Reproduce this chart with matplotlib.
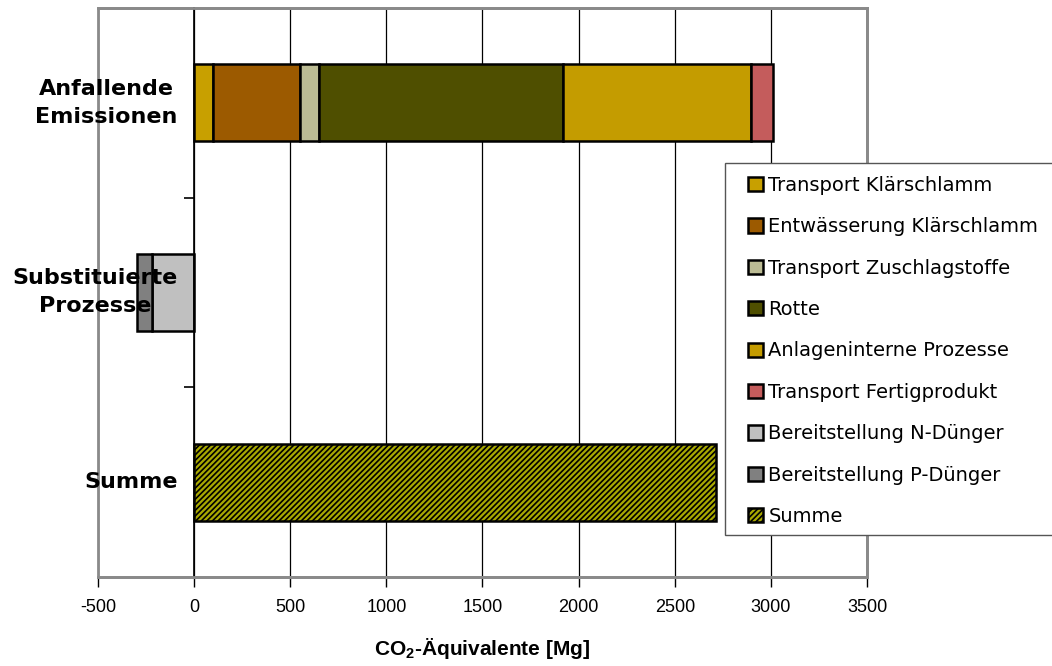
import matplotlib
matplotlib.use("Agg")
import matplotlib.pyplot as plt
from matplotlib.patches import Rectangle, Patch
import numpy as np

categories = ["Anfallende\nEmissionen", "Substituierte\nProzesse", "Summe"]

series_names = ["Transport Klärschlamm", "Entwässerung Klärschlamm", "Transport Zuschlagstoffe",
                "Rotte", "Anlageninterne Prozesse", "Transport Fertigprodukt",
                "Bereitstellung N-Dünger", "Bereitstellung P-Dünger", "Summe"]
# values per category: [Anfallende, Substituierte, Summe]
transport_klaerschlamm = [98, 0, 0]
entwaesserung = [452, 0, 0]
transport_zuschlag = [100, 0, 0]
rotte = [1268, 0, 0]
anlageninterne = [980, 0, 0]
transport_fertig = [113, 0, 0]
n_duenger = [0, -217, 0]
p_duenger = [0, -78, 0]
summe = [0, 0, 2716]

series_values = [transport_klaerschlamm, entwaesserung, transport_zuschlag, rotte,
                 anlageninterne, transport_fertig, n_duenger, p_duenger, summe]
colors = ["#c8a000", "#9c5a00", "#bcbc94", "#4f4f00", "#c49c00", "#c45c5c",
          "#c0c0c0", "#808080", "#a8a800"]
hatches = [None] * 8 + ["//////"]

xticks = [-500, 0, 500, 1000, 1500, 2000, 2500, 3000, 3500]

plt.rcParams['font.family'] = ['DejaVu Sans']
plt.rcParams['mathtext.fontset'] = 'custom'
plt.rcParams['mathtext.rm'] = 'Liberation Sans'
plt.rcParams['mathtext.bf'] = 'Liberation Sans:bold'
plt.rcParams['hatch.linewidth'] = 1.2

W, H = 1052, 666
fig = plt.figure(figsize=(W/100, H/100), dpi=100)
ax = fig.add_axes([98/W, 1-577/H, (867-98)/W, (577-8)/H])

y = np.arange(len(categories))
pos_left = np.zeros(len(categories))
neg_left = np.zeros(len(categories))
for name, vals, col, h in zip(series_names, series_values, colors, hatches):
    vals = np.array(vals, dtype=float)
    left = np.where(vals >= 0, pos_left, neg_left)
    mask = vals != 0
    ax.barh(y[mask], vals[mask], left=left[mask], height=0.405, color=col,
            edgecolor="black", linewidth=1.8, hatch=h, zorder=3)
    pos_left += np.where(vals > 0, vals, 0)
    neg_left += np.where(vals < 0, vals, 0)

ax.set_xlim(-500, 3500)
ax.set_ylim(2.5, -0.5)
ax.set_xticks(xticks)
ax.set_xticklabels([str(t) for t in xticks], fontfamily=['Liberation Sans'], fontsize=13)
ax.grid(axis='x', color='black', linewidth=0.9, zorder=0)
ax.tick_params(axis='x', direction='out', length=7, width=1, color='black', pad=9)

# category axis at x=0
ax.spines['left'].set_position(('data', 0))
ax.spines['left'].set_color('black')
ax.spines['left'].set_linewidth(1.2)
ax.spines['left'].set_zorder(4)
for s in ['top', 'right', 'bottom']:
    ax.spines[s].set_color('#8a8a8a')
    ax.spines[s].set_linewidth(2)
ax.add_patch(Rectangle((0, 0), 1, 1, transform=ax.transAxes, fill=False,
                       edgecolor='#8a8a8a', linewidth=2, clip_on=False, zorder=5))

ax.set_yticks(y)
ax.set_yticklabels(categories, fontsize=16, fontweight='bold')
for lab in ax.get_yticklabels():
    lab.set_multialignment('center')
    lab.set_linespacing(1.5)
    lab.set_verticalalignment('center')
ax.set_yticks([0.5, 1.5], minor=True)
ax.tick_params(axis='y', which='major', length=0, pad=12)
ax.tick_params(axis='y', which='minor', length=7, width=1.2, color='black', direction='out')
ax.yaxis.set_zorder(10)

ax.set_xlabel('CO$_\\mathbf{2}$-Äquivalente [Mg]', fontsize=15, fontweight='bold',
              fontfamily=['Liberation Sans'], labelpad=14)

# legend frame drawn separately
fig.patches.append(Rectangle((725/W, 1-535/H), (1060-725)/W, (535-163)/H,
                             transform=fig.transFigure, facecolor='white',
                             edgecolor='#555555', linewidth=1, zorder=20))
handles = [Patch(facecolor=c, edgecolor='black', linewidth=1.8, hatch=h)
           for c, h in zip(colors, hatches)]
leg = fig.legend(handles, series_names, loc='upper left',
                 bbox_to_anchor=(748/W, 1-176/H), frameon=False,
                 fontsize=14, handlelength=0.75, handleheight=0.75, handletextpad=0.3,
                 labelspacing=1.15, borderpad=0, borderaxespad=0)
leg.set_zorder(21)

fig.savefig('out.png', dpi=100)
